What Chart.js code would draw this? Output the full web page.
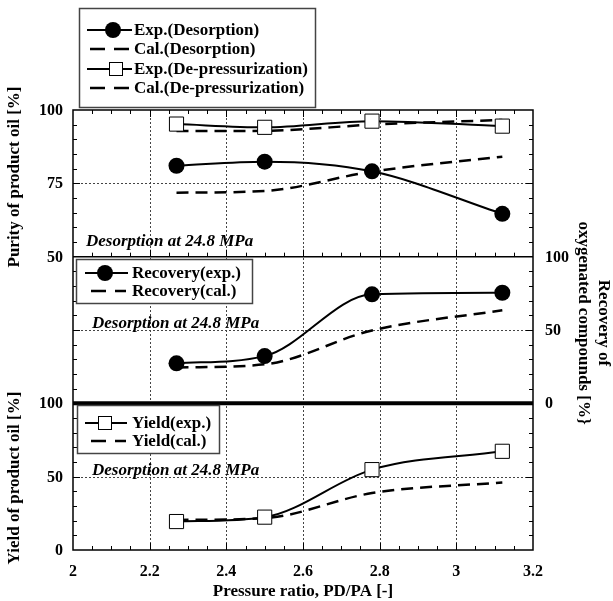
<!DOCTYPE html>
<html>
<head>
<meta charset="utf-8">
<script src="https://cdn.jsdelivr.net/npm/chart.js@4.4.0/dist/chart.umd.min.js"></script>
<style>
html,body{margin:0;padding:0;background:#fff;}
#wrap{position:relative;width:613px;height:601px;}
canvas{display:block;}
</style>
</head>
<body>
<div id="wrap"><canvas id="c" width="613" height="601"></canvas></div>
<script>
// ---- data ----
const pressureRatio        = [2.27, 2.50, 2.78, 3.12];
const purityExpDesorption  = [81.0, 82.4, 79.1, 64.6];
const purityCalDesorption  = [71.8, 72.4, 79.0, 84.1];
const purityExpDepress     = [95.2, 94.1, 96.2, 94.5];
const purityCalDepress     = [92.8, 92.9, 95.0, 96.6];
const recoveryExp          = [27.3, 32.2, 74.3, 75.4];
const recoveryCal          = [24.4, 26.6, 49.7, 63.5];
const yieldExp             = [19.4, 22.4, 54.8, 67.3];
const yieldCal             = [20.5, 21.7, 38.8, 46.1];
const xTickLabels          = [2, 2.2, 2.4, 2.6, 2.8, 3, 3.2];
const purityTicks          = [50, 75, 100];
const recoveryTicks        = [0, 50, 100];
const yieldTicks           = [0, 50, 100];
const annotationText       = 'Desorption at 24.8 MPa';
const xTitle               = 'Pressure ratio, PD/PA [-]';
const purityTitle          = 'Purity of product oil [%]';
const yieldTitle           = 'Yield of product oil [%]';
const recoveryTitle        = ['Recovery of', 'oxygenated compounds [%}'];

const SERIF = '"Liberation Serif","Times New Roman",serif';
const pts = ys => pressureRatio.map((x, i) => ({x: x, y: ys[i]}));

function seg(ctx, x1, y1, x2, y2) { ctx.beginPath(); ctx.moveTo(x1, y1); ctx.lineTo(x2, y2); ctx.stroke(); }

function legendItem(ctx, kind, x1, x2, mx, y, label, tx) {
  ctx.save();
  ctx.strokeStyle = '#000';
  ctx.lineWidth = 2;
  if (kind === 'dash') {
    ctx.setLineDash([15, 9]); ctx.lineWidth = 2.5; seg(ctx, x1 + 3, y, x2, y);
  } else {
    seg(ctx, x1, y, x2, y);
    if (kind === 'circle') {
      ctx.fillStyle = '#000'; ctx.beginPath(); ctx.arc(mx, y, 8, 0, Math.PI * 2); ctx.fill();
    } else {
      ctx.fillStyle = '#fff'; ctx.lineWidth = 1;
      ctx.fillRect(mx - 7, y - 7, 14, 14); ctx.strokeRect(mx - 6.5, y - 6.5, 13, 13);
    }
  }
  ctx.fillStyle = '#000'; ctx.font = 'bold 17px ' + SERIF;
  ctx.textBaseline = 'middle'; ctx.textAlign = 'left';
  ctx.fillText(label, tx, y + 1);
  ctx.restore();
}

function legendBox(ctx, x, y, w, h) {
  ctx.save();
  ctx.fillStyle = '#fff'; ctx.fillRect(x, y, w, h);
  ctx.strokeStyle = '#444'; ctx.lineWidth = 1.5; ctx.strokeRect(x + 0.5, y + 0.5, w, h);
  ctx.restore();
}

const panelPlugin = {
  id: 'panels',
  beforeDatasetsDraw(chart) {
    const {ctx, chartArea: a, scales: s} = chart;
    ctx.save();
    ctx.strokeStyle = '#444'; ctx.lineWidth = 1; ctx.setLineDash([2, 2]);
    xTickLabels.slice(1, -1).forEach(v => {
      const px = Math.round(s.x.getPixelForValue(v)) + 0.5; seg(ctx, px, a.top, px, a.bottom);
    });
    [[s.yP, 75], [s.yR, 50], [s.yY, 50]].forEach(([sc, v]) => {
      const py = Math.round(sc.getPixelForValue(v)) + 0.5; seg(ctx, a.left, py, a.right, py);
    });
    ctx.restore();
  },
  afterDatasetsDraw(chart) {
    const {ctx, chartArea: a, scales: s} = chart;
    const p1 = s.yP.getPixelForValue(50);   // boundary top / middle
    const p2 = s.yR.getPixelForValue(0);    // boundary middle / bottom
    ctx.save();
    ctx.strokeStyle = '#000'; ctx.setLineDash([]);
    // frame
    ctx.lineWidth = 1.5;
    ctx.strokeRect(a.left, a.top, a.right - a.left, a.bottom - a.top);
    seg(ctx, a.left, p1, a.right, p1);
    ctx.lineWidth = 4;
    seg(ctx, a.left, p2, a.right, p2);
    // x ticks
    ctx.lineWidth = 1;
    for (let i = 1; i < 24; i++) {
      const v = 2 + i * 0.05;
      const px = Math.round(s.x.getPixelForValue(v)) + 0.5;
      const len = (i % 4 === 0) ? 7 : 4;
      seg(ctx, px, a.top, px, a.top + len);
      seg(ctx, px, p1, px, p1 - len);
      seg(ctx, px, a.bottom, px, a.bottom - len);
    }
    // y ticks
    const yt = (sc, lo, hi, step, major) => {
      for (let v = lo + step; v < hi; v += step) {
        const py = Math.round(sc.getPixelForValue(v)) + 0.5;
        const len = (v % major === 0) ? 7 : 4;
        seg(ctx, a.left, py, a.left + len, py);
        seg(ctx, a.right, py, a.right - len, py);
      }
    };
    yt(s.yP, 50, 100, 5, 25);
    yt(s.yR, 0, 100, 10, 50);
    yt(s.yY, 0, 100, 10, 50);

    // tick labels
    ctx.fillStyle = '#000';
    ctx.font = 'bold 16px ' + SERIF;
    ctx.textBaseline = 'middle';
    ctx.textAlign = 'right';
    purityTicks.forEach(v => ctx.fillText(String(v), a.left - 10, s.yP.getPixelForValue(v) + 1));
    yieldTicks.forEach(v => ctx.fillText(String(v), a.left - 10, s.yY.getPixelForValue(v) + 1));
    ctx.textAlign = 'left';
    recoveryTicks.forEach(v => ctx.fillText(String(v), a.right + 12, s.yR.getPixelForValue(v) + 1));
    ctx.textAlign = 'center';
    xTickLabels.forEach(v => ctx.fillText(String(v), s.x.getPixelForValue(v), a.bottom + 22));

    // axis titles
    ctx.font = 'bold 17px ' + SERIF;
    ctx.fillText(xTitle, (a.left + a.right) / 2, a.bottom + 42);
    ctx.save(); ctx.translate(15, 177); ctx.rotate(-Math.PI / 2); ctx.fillText(purityTitle, 0, 0); ctx.restore();
    ctx.save(); ctx.translate(15, 478); ctx.rotate(-Math.PI / 2); ctx.fillText(yieldTitle, 0, 0); ctx.restore();
    ctx.save(); ctx.translate(593, 323); ctx.rotate(Math.PI / 2);
    ctx.fillText(recoveryTitle[0], 0, -10); ctx.fillText(recoveryTitle[1], 0, 10); ctx.restore();

    // annotations
    ctx.font = 'italic bold 17px ' + SERIF;
    ctx.textAlign = 'left'; ctx.textBaseline = 'alphabetic';
    ctx.fillText(annotationText, 86, 246);
    ctx.fillText(annotationText, 92, 328);
    ctx.fillText(annotationText, 92, 475);

    // legends
    legendBox(ctx, 79, 8, 236, 99);
    legendItem(ctx, 'circle', 87, 132, 113, 30, 'Exp.(Desorption)', 134);
    legendItem(ctx, 'dash', 87, 131, 0, 49, 'Cal.(Desorption)', 134);
    legendItem(ctx, 'square', 87, 132, 116, 69, 'Exp.(De-pressurization)', 134);
    legendItem(ctx, 'dash', 87, 131, 0, 88, 'Cal.(De-pressurization)', 134);

    legendBox(ctx, 76, 259, 176, 44);
    legendItem(ctx, 'circle', 85, 128, 105, 273, 'Recovery(exp.)', 132);
    legendItem(ctx, 'dash', 88, 126, 0, 291, 'Recovery(cal.)', 132);

    legendBox(ctx, 77, 405, 142, 48);
    legendItem(ctx, 'square', 85, 127, 105, 423, 'Yield(exp.)', 132);
    legendItem(ctx, 'dash', 88, 126, 0, 441, 'Yield(cal.)', 132);
    ctx.restore();
  }
};

const common = {cubicInterpolationMode: 'monotone', borderColor: '#000', fill: false};
const solidCircle = Object.assign({}, common, {borderWidth: 2, pointStyle: 'circle', pointRadius: 8,
  pointBackgroundColor: '#000', pointBorderColor: '#000', pointBorderWidth: 0});
const solidSquare = Object.assign({}, common, {borderWidth: 2, pointStyle: 'rect', pointRadius: 10,
  pointBackgroundColor: '#fff', pointBorderColor: '#000', pointBorderWidth: 1});
const dashed = Object.assign({}, common, {borderWidth: 2.5, borderDash: [12, 7], pointRadius: 0});

new Chart(document.getElementById('c'), {
  type: 'line',
  data: {
    datasets: [
      Object.assign({}, solidSquare, {label: 'Exp.(De-pressurization)', data: pts(purityExpDepress), yAxisID: 'yP'}),
      Object.assign({}, solidCircle, {label: 'Exp.(Desorption)', data: pts(purityExpDesorption), yAxisID: 'yP'}),
      Object.assign({}, solidCircle, {label: 'Recovery(exp.)', data: pts(recoveryExp), yAxisID: 'yR'}),
      Object.assign({}, solidSquare, {label: 'Yield(exp.)', data: pts(yieldExp), yAxisID: 'yY'}),
      Object.assign({}, dashed, {label: 'Cal.(Desorption)', data: pts(purityCalDesorption), yAxisID: 'yP'}),
      Object.assign({}, dashed, {label: 'Cal.(De-pressurization)', data: pts(purityCalDepress), yAxisID: 'yP'}),
      Object.assign({}, dashed, {label: 'Recovery(cal.)', data: pts(recoveryCal), yAxisID: 'yR'}),
      Object.assign({}, dashed, {label: 'Yield(cal.)', data: pts(yieldCal), yAxisID: 'yY'})
    ]
  },
  options: {
    responsive: false,
    animation: false,
    devicePixelRatio: 1,
    layout: {padding: {left: 73, right: 80, top: 110, bottom: 51}},
    plugins: {legend: {display: false}, tooltip: {enabled: false}},
    scales: {
      x:  {type: 'linear', min: 2, max: 3.2, display: false},
      yP: {type: 'linear', min: -50, max: 100, display: false},
      yR: {type: 'linear', min: -100, max: 200, display: false},
      yY: {type: 'linear', min: 0, max: 300, display: false}
    }
  },
  plugins: [panelPlugin]
});
</script>
</body>
</html>
